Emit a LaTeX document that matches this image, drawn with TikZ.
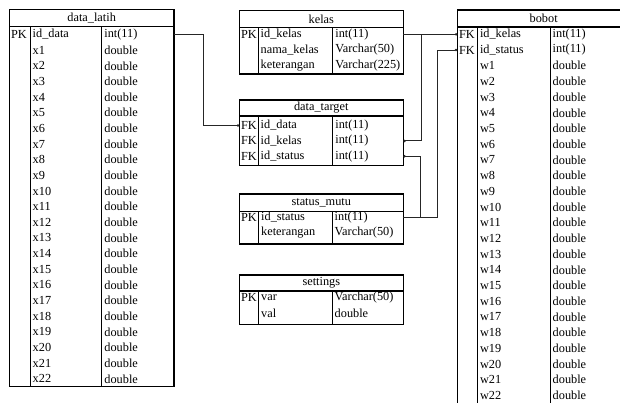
\documentclass[tikz,border=0pt]{standalone}
\usepackage{fontspec}
\setmainfont{Liberation Serif}
\usetikzlibrary{arrows.meta}
\tikzset{
  boxline/.style={line width=1.3pt, draw=black},
  colline/.style={line width=0.9pt, draw=black},
  cell/.style={anchor=west, inner sep=0pt, font=\fontsize{12.3}{14}\selectfont},
  titletext/.style={inner sep=0pt, font=\fontsize{12.3}{14}\selectfont},
  conn/.style={line width=0.9pt, draw=black!85, -{Circle[length=2.4pt]}},
}
\newcommand\erdtable[9]{%
  \def\tXl{#2}\def\tXpk{#3}\def\tXty{#4}\def\tXr{#5}%
  \draw[colline] (#3,#7) -- (#3,#8);
  \draw[colline] (#4,#7) -- (#4,#8);
  \draw[boxline] (#2,#6) rectangle (#5,#8);
  \draw[boxline] (#2,#7) -- (#5,#7);
  \node[titletext] (#1-title) at ({(#2+#5)/2},{(#6+#7)/2}) {#9};
}
\newcommand\erdrows[4]{%
  \foreach \kk/\nn/\ty [count=\i from 0] in {#4} {
    \pgfmathsetmacro\yy{#2+#3*\i}
    \node[cell] (#1-k\i) at (\tXl+1.5,\yy) {\kk};
    \node[cell] (#1-n\i) at (\tXpk+2.5,\yy) {\nn};
    \node[cell] (#1-t\i) at (\tXty+2.5,\yy) {\ty};
    \coordinate (#1-L\i) at (\tXl,\yy);
    \coordinate (#1-R\i) at (\tXr,\yy);
  }}
\begin{document}
\begin{tikzpicture}[x=1pt,y=-1pt]
\clip (0,0) rectangle (620,403);
\fill[white] (0,0) rectangle (620,403);

% data_latih
\erdtable{dl}{9.3}{30}{101.7}{174}{9.5}{26.7}{386.7}{data\_latih}
\erdrows{dl}{34.5}{15.65}{PK/id\_data/int(11), /x1/double, /x2/double, /x3/double, /x4/double, /x5/double, /x6/double, /x7/double, /x8/double, /x9/double, /x10/double, /x11/double, /x12/double, /x13/double, /x14/double, /x15/double, /x16/double, /x17/double, /x18/double, /x19/double, /x20/double, /x21/double, /x22/double}

% kelas
\erdtable{ke}{239.3}{258}{332.7}{403.3}{10.7}{27.3}{74}{kelas}
\erdrows{ke}{34.3}{15.6}{PK/id\_kelas/int(11), /nama\_kelas/Varchar(50), /keterangan/Varchar(225)}

% data_target
\erdtable{dt}{239.3}{258}{332.7}{403.3}{100}{116}{165.7}{data\_target}
\erdrows{dt}{125.5}{15.4}{FK/id\_data/int(11), FK/id\_kelas/int(11), FK/id\_status/int(11)}

% status_mutu
\erdtable{sm}{239.3}{258.5}{332}{403.3}{194}{211.7}{244}{status\_mutu}
\erdrows{sm}{217.3}{15.3}{PK/id\_status/int(11), /keterangan/Varchar(50)}

% settings
\erdtable{se}{239.3}{258.5}{332}{403.3}{275}{291}{324.3}{settings}
\erdrows{se}{297.5}{15.5}{PK/var/Varchar(50), /val/double}

% bobot
\erdtable{bo}{457.3}{477.3}{550}{630}{10}{27}{410}{bobot}
\erdrows{bo}{34.3}{15.7}{FK/id\_kelas/int(11), FK/id\_status/int(11), /w1/double, /w2/double, /w3/double, /w4/double, /w5/double, /w6/double, /w7/double, /w8/double, /w9/double, /w10/double, /w11/double, /w12/double, /w13/double, /w14/double, /w15/double, /w16/double, /w17/double, /w18/double, /w19/double, /w20/double, /w21/double, /w22/double}

% connectors
\draw[conn] (dl-R0) -- ++(29.3,0) |- (dt-L0);
\draw[conn] (ke-R0) -- (bo-L0);
\draw[conn] ([xshift=17.7pt]ke-R0) |- (dt-R1);
\draw[conn] (sm-R0) -- ++(34.4,0) |- (bo-L1);
\draw[conn] ([xshift=17.4pt]sm-R0) |- (dt-R2);
\end{tikzpicture}
\end{document}
